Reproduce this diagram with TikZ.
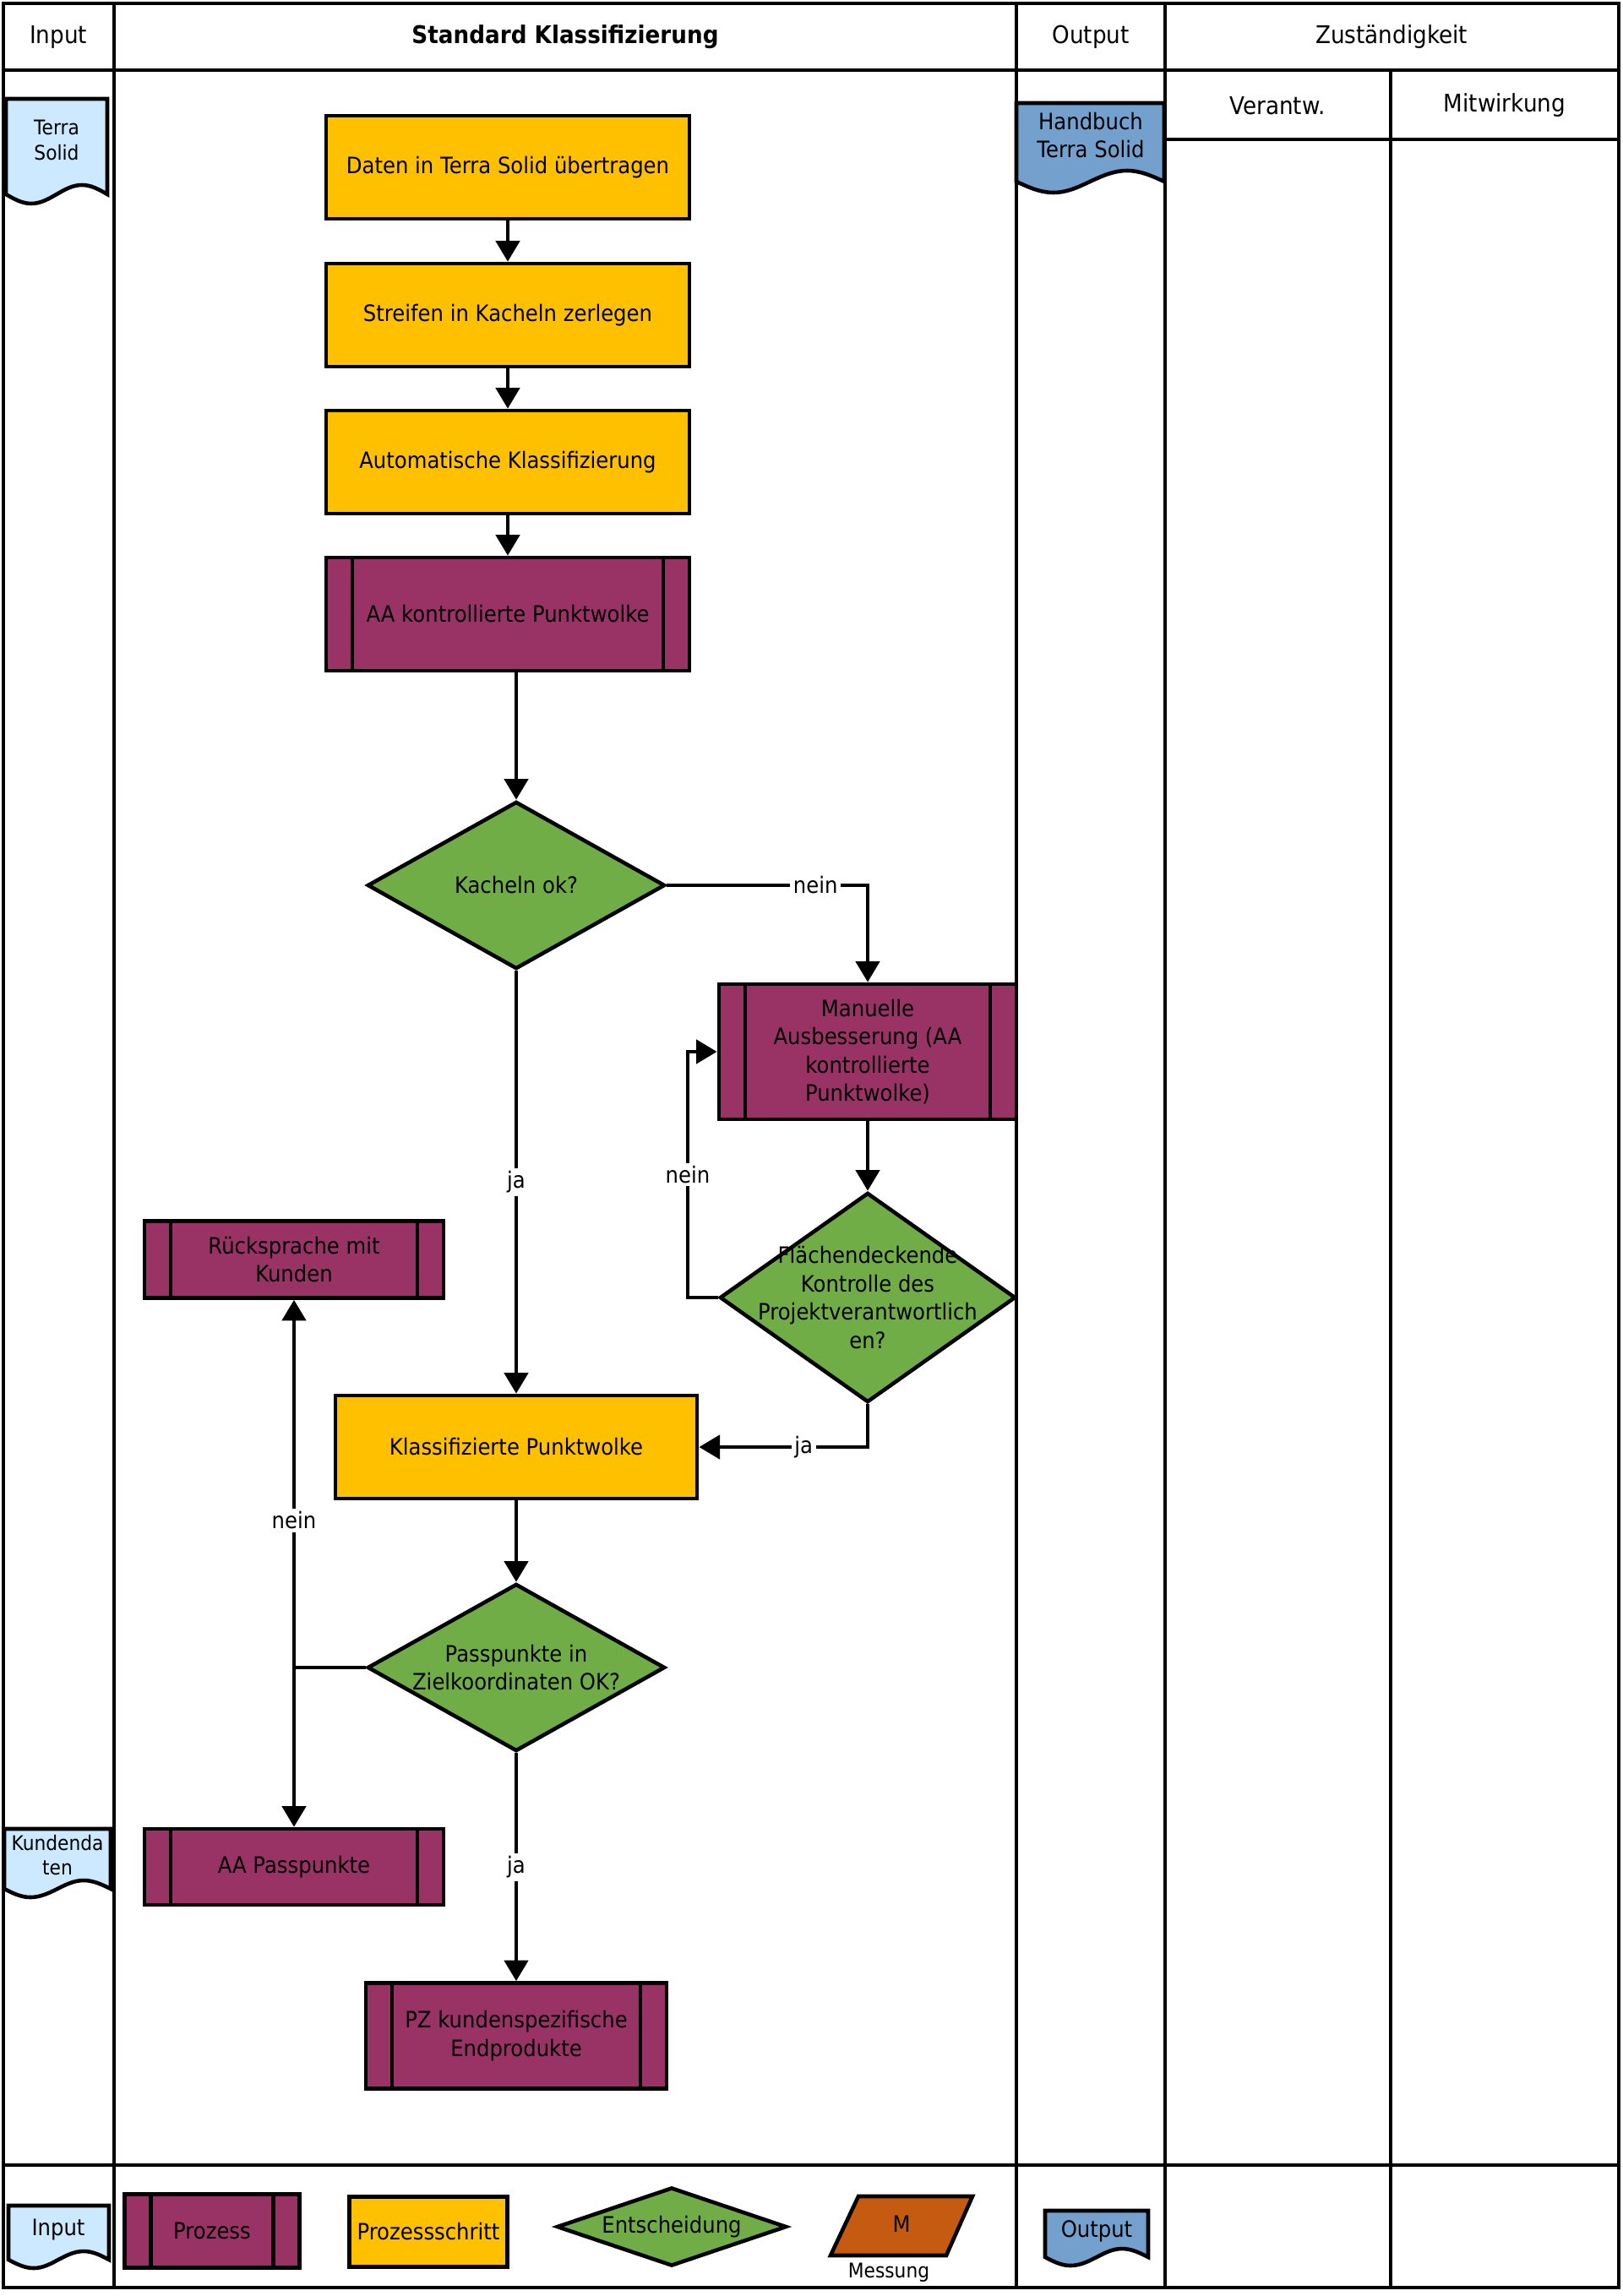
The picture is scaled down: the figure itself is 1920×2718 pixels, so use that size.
\documentclass[tikz,border=0pt]{standalone}
\usepackage{fontspec}
\setmainfont{DejaVu Sans}[FakeStretch=0.91]
\usetikzlibrary{arrows.meta}
\usetikzlibrary{shapes.geometric}
\definecolor{schrittgelb}{HTML}{FFC000}
\definecolor{prozesslila}{HTML}{993366}
\definecolor{entscheidgruen}{HTML}{70AD47}
\definecolor{inputblau}{HTML}{CCE9FF}
\definecolor{outputblau}{HTML}{74A0CD}
\definecolor{messorange}{HTML}{C55A11}
\newcommand{\boxschrift}{\fontsize{7.6}{9.5}\selectfont}
\newcommand{\kopfschrift}{\fontsize{8.2}{10}\selectfont}
\newcommand{\dokschrift}{\fontsize{6.8}{8.4}\selectfont}
\tikzset{rahmen/.style = {line width=1.2pt}}
\tikzset{dokument/.style = {draw, line width=1.3pt}}
\tikzset{schritt/.style = {draw, line width=1.3pt, fill=schrittgelb, align=center, font=\boxschrift,
                           minimum width=4.3cm, minimum height=1.22cm}}
\tikzset{prozess/.style = {draw, line width=1.3pt, fill=prozesslila, align=center, font=\boxschrift,
                           path picture={\draw[line width=1.3pt]
                             ([xshift=0.31cm]path picture bounding box.north west) -- ([xshift=0.31cm]path picture bounding box.south west)
                             ([xshift=-0.31cm]path picture bounding box.north east) -- ([xshift=-0.31cm]path picture bounding box.south east);}}}
\tikzset{entscheidung/.style = {diamond, draw, line width=1.3pt, fill=entscheidgruen, inner sep=0pt}}
\tikzset{pfeil/.style = {line width=1.25pt, -{Triangle[width=8pt, length=7pt]}}}
\tikzset{marke/.style = {fill=white, inner sep=1pt, font=\boxschrift}}

\begin{document}
\begin{tikzpicture}[x=0.01cm, y=-0.01cm]
  \useasboundingbox (0,0) rectangle (1920,2718);

  % Raster
  \draw[rahmen] (4,4) rectangle (1916,2708);
  \draw[rahmen] (4,83) -- (1916,83);
  \draw[rahmen] (4,2563) -- (1916,2563);
  \foreach \x in {135, 1203, 1379} {
    \draw[rahmen] (\x,4) -- (\x,2708);
  }
  \draw[rahmen] (1646,83) -- (1646,2708);
  \draw[rahmen] (1379,165) -- (1916,165);

  \node[font=\kopfschrift] (hinput) at (69,44) {Input};
  \node[font=\kopfschrift\bfseries] (hstandard) at (669,44) {Standard Klassifizierung};
  \node[font=\kopfschrift] (houtput) at (1291,44) {Output};
  \node[font=\kopfschrift] (hzust) at (1647,44) {Zuständigkeit};
  \node[font=\kopfschrift] (hverantw) at (1512,125) {Verantw.};
  \node[font=\kopfschrift] (hmitwirk) at (1781,125) {Mitwirkung};

  % Dokumente
  \draw[dokument, fill=inputblau] (7,117) -- (127,117) -- (127,230)
    sin (97,219) cos (67,230) sin (37,241) cos (7,230) -- cycle;
  \node[font=\dokschrift, align=center] (terrasolid) at (67,166) {Terra\\Solid};
  \draw[dokument, fill=outputblau] (1203,122) -- (1378,122) -- (1378,215)
    sin (1334,202) cos (1290,215) sin (1247,228) cos (1203,215) -- cycle;
  \node[font=\boxschrift, align=center] (handbuch) at (1291,160) {Handbuch\\Terra Solid};
  \draw[dokument, fill=inputblau] (5,2165) -- (131,2165) -- (131,2236)
    sin (99,2226) cos (68,2236) sin (36,2246) cos (5,2236) -- cycle;
  \node[font=\dokschrift, align=center] (kundendaten) at (68,2196) {Kundenda\\ten};

  % Ablauf
  \node[schritt] (daten) at (601,198) {Daten in Terra Solid übertragen};
  \node[schritt] (streifen) at (601,373) {Streifen in Kacheln zerlegen};
  \node[schritt] (autoklass) at (601,547) {Automatische Klassifizierung};
  \node[prozess, minimum width=4.3cm, minimum height=1.34cm] (aakontrolle) at (601,727) {AA kontrollierte Punktwolke};
  \node[entscheidung, minimum width=3.52cm, minimum height=1.98cm,
        label={[font=\boxschrift, align=center]center:Kacheln ok?}] (kacheln) at (611,1048) {};
  \node[prozess, minimum width=3.52cm, minimum height=1.6cm] (manuell) at (1027,1245)
    {Manuelle\\Ausbesserung (AA\\kontrollierte\\Punktwolke)};
  \node[entscheidung, minimum width=3.5cm, minimum height=2.48cm,
        label={[font=\boxschrift, align=center]center:Flächendeckende\\Kontrolle des\\Projektverantwortlich\\en?}] (flaechen) at (1027,1536) {};
  \node[schritt, minimum width=4.28cm] (klasspw) at (611,1713) {Klassifizierte Punktwolke};
  \node[prozess, minimum width=3.54cm, minimum height=0.91cm] (ruecksprache) at (348,1491) {Rücksprache mit\\Kunden};
  \node[entscheidung, minimum width=3.52cm, minimum height=1.98cm,
        label={[font=\boxschrift, align=center]center:Passpunkte in\\Zielkoordinaten OK?}] (passpunkte) at (611,1974) {};
  \node[prozess, minimum width=3.54cm, minimum height=0.9cm] (aapass) at (348,2210) {AA Passpunkte};
  \node[prozess, minimum width=3.56cm, minimum height=1.25cm] (pzprodukte) at (611,2410) {PZ kundenspezifische\\Endprodukte};

  \coordinate (schleife) at (814,1536);
  \coordinate (verzweig) at (348,1974);

  \draw[pfeil] (daten) -- (streifen);
  \draw[pfeil] (streifen) -- (autoklass);
  \draw[pfeil] (autoklass) -- (aakontrolle);
  \draw[pfeil] (aakontrolle.south -| kacheln.north) -- (kacheln.north);
  \draw[pfeil] (kacheln.east) -| node[marke, pos=0.37] {nein} (manuell.north);
  \draw[pfeil] (kacheln.south) -- node[marke] {ja} (klasspw.north);
  \draw[pfeil] (manuell.south) -- (flaechen.north);
  \draw[pfeil] (flaechen.west) -- (schleife) |- node[marke, pos=0.25] {nein} (manuell.west);
  \draw[pfeil] (flaechen.south) |- node[marke, pos=0.69] {ja} (klasspw.east);
  \draw[pfeil] (klasspw) -- (passpunkte);
  \draw[line width=1.25pt] (passpunkte.west) -- (verzweig);
  \draw[pfeil] (verzweig) -- node[marke, pos=0.4] {nein} (ruecksprache.south);
  \draw[pfeil] (verzweig) -- (aapass.north);
  \draw[pfeil] (passpunkte.south) -- node[marke] {ja} (pzprodukte.north);

  % Legende
  \draw[dokument, fill=inputblau] (10,2611) -- (129,2611) -- (129,2675)
    sin (99,2665) cos (69,2675) sin (40,2685) cos (10,2675) -- cycle;
  \node[font=\boxschrift] (leginput) at (69,2640) {Input};
  \node[prozess, minimum width=2.07cm, minimum height=0.87cm] (legprozess) at (251,2641) {Prozess};
  \node[schritt, minimum width=1.87cm, minimum height=0.83cm, inner sep=0pt] (legschritt) at (507,2642) {Prozessschritt};
  \node[entscheidung, minimum width=2.72cm, minimum height=0.93cm,
        label={[font=\boxschrift]center:Entscheidung}] (legentscheid) at (795,2636) {};
  \draw[dokument, fill=messorange] (1016,2600) -- (1151,2600) -- (1120,2670) -- (983,2670) -- cycle;
  \node[font=\boxschrift] (legm) at (1067,2633) {M};
  \node[font=\dokschrift] (legmessung) at (1052,2690) {Messung};
  \draw[dokument, fill=outputblau] (1237,2617) -- (1359,2617) -- (1359,2672)
    sin (1328,2662) cos (1298,2672) sin (1267,2682) cos (1237,2672) -- cycle;
  \node[font=\boxschrift] (legoutput) at (1298,2641) {Output};
\end{tikzpicture}
\end{document}
